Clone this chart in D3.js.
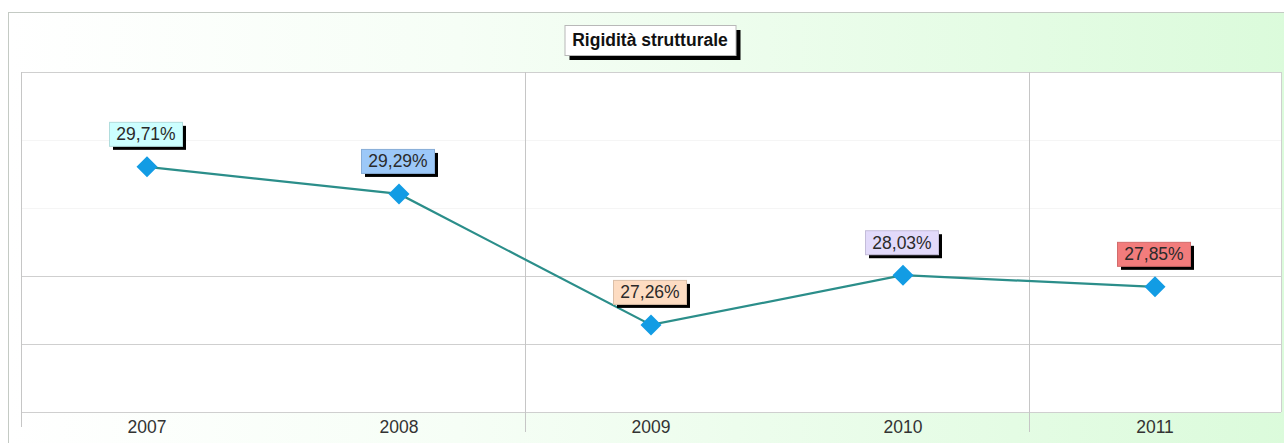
<!DOCTYPE html>
<html>
<head>
<meta charset="utf-8">
<script src="https://cdn.jsdelivr.net/npm/d3@7"></script>
<style>
  html, body { margin: 0; padding: 0; background: #fff; }
  svg { display: block; }
</style>
</head>
<body>
<div id="chart"></div>
<script>
// chart values
const years = ["2007", "2008", "2009", "2010", "2011"];
const values = [29.71, 29.29, 27.26, 28.03, 27.85];
const title = "Rigidità strutturale";

// label box fills, one per year
const labelFills = ["#ccffff", "#9cc8f8", "#fddcc2", "#e2dafa", "#f27c7c"];

const width = 1284, height = 443;
const plot = { left: 21, right: 1281, top: 72, bottom: 412 };
const yMin = 25.91, yMax = 31.18;  // axis range of the original

const itLocale = d3.formatLocale({ decimal: ",", thousands: ".", grouping: [3], currency: ["", "€"] });
const fmt = itLocale.format(".2f");

const svg = d3.select("#chart").append("svg")
  .attr("width", width)
  .attr("height", height);

const defs = svg.append("defs");
const grad = defs.append("linearGradient")
  .attr("id", "bg")
  .attr("x1", "0%").attr("x2", "100%").attr("y1", "0%").attr("y2", "0%");
grad.append("stop").attr("offset", "0%").attr("stop-color", "#ffffff");
grad.append("stop").attr("offset", "35%").attr("stop-color", "#f6fef6");
grad.append("stop").attr("offset", "100%").attr("stop-color", "#dbfbdb");

// outer frame with the green gradient
svg.append("rect")
  .attr("x", 8.5).attr("y", 12.5)
  .attr("width", width).attr("height", height)
  .attr("fill", "url(#bg)")
  .attr("stroke", "#c4cac4");

// plot area
svg.append("rect")
  .attr("x", plot.left).attr("y", plot.top)
  .attr("width", plot.right - plot.left).attr("height", plot.bottom - plot.top)
  .attr("fill", "#ffffff");

const x = d3.scaleBand()
  .domain(years)
  .range([plot.left, plot.right]);

const y = d3.scaleLinear()
  .domain([yMin, yMax])
  .range([plot.bottom, plot.top]);

const gridVals = d3.range(6).map(i => yMin + i * (yMax - yMin) / 5);

// horizontal grid (upper lines are very pale in the original)
svg.append("g").selectAll("line")
  .data(gridVals)
  .join("line")
  .attr("x1", plot.left).attr("x2", plot.right)
  .attr("y1", d => Math.round(y(d)) + 0.5)
  .attr("y2", d => Math.round(y(d)) + 0.5)
  .attr("stroke", (d, i) => (i == 3 || i == 4) ? "#f5f5f5" : "#cfcfcf");

// vertical separators, every second category boundary, running into the label zone
const bounds = [0, 2, 4].map(i => x(years[i]));
svg.append("g").selectAll("line")
  .data(bounds)
  .join("line")
  .attr("x1", d => Math.round(d) + 0.5).attr("x2", d => Math.round(d) + 0.5)
  .attr("y1", plot.top)
  .attr("y2", (d, i) => i == 0 ? 427 : 432)
  .attr("stroke", "#c6c6c6");

// right border
svg.append("line")
  .attr("x1", plot.right + 0.5).attr("x2", plot.right + 0.5)
  .attr("y1", plot.top).attr("y2", plot.bottom)
  .attr("stroke", "#cfcfcf");

// category labels
svg.append("g").selectAll("text")
  .data(years)
  .join("text")
  .attr("x", d => x(d) + x.bandwidth() / 2)
  .attr("y", 433)
  .attr("text-anchor", "middle")
  .attr("font-family", "Liberation Sans, Arial, sans-serif")
  .attr("font-size", 17.5)
  .attr("fill", "#333")
  .text(d => d);

// the line
const pts = years.map((yr, i) => ({ year: yr, value: values[i], fill: labelFills[i] }));
const cx = d => x(d.year) + x.bandwidth() / 2;

svg.append("path")
  .datum(pts)
  .attr("fill", "none")
  .attr("stroke", "#2b8e8a")
  .attr("stroke-width", 2.2)
  .attr("d", d3.line().x(cx).y(d => y(d.value)));

// diamonds
svg.append("g").selectAll("path")
  .data(pts)
  .join("path")
  .attr("transform", d => `translate(${cx(d)},${y(d.value)})`)
  .attr("d", "M0,-10.5L10.5,0L0,10.5L-10.5,0Z")
  .attr("fill", "#129ce4");

// value labels with drop shadow
const bw = 73, bh = 24;
const lab = svg.append("g").selectAll("g")
  .data(pts)
  .join("g")
  .attr("transform", d => `translate(${cx(d) - 38},${y(d.value) - 21 - bh})`);

lab.append("rect")
  .attr("x", 4).attr("y", 4)
  .attr("width", bw).attr("height", bh)
  .attr("fill", "#000");

lab.append("rect")
  .attr("x", 0.5).attr("y", 0.5)
  .attr("width", bw).attr("height", bh)
  .attr("fill", d => d.fill)
  .attr("stroke", d => d3.color(d.fill).darker(0.4));

lab.append("text")
  .attr("x", bw / 2 + 0.5)
  .attr("y", bh / 2 + 6.5)
  .attr("text-anchor", "middle")
  .attr("font-family", "Liberation Sans, Arial, sans-serif")
  .attr("font-size", 17.5)
  .attr("fill", "#2a2a2a")
  .text(d => fmt(d.value) + "%");

// title box
const tw = 171, th = 30, tcx = 650;
const tg = svg.append("g").attr("transform", `translate(${tcx - tw / 2},25)`);
tg.append("rect").attr("x", 5).attr("y", 5).attr("width", tw).attr("height", th).attr("fill", "#000");
tg.append("rect").attr("x", 0.5).attr("y", 0.5).attr("width", tw).attr("height", th)
  .attr("fill", "#fff").attr("stroke", "#b8b8b8");
tg.append("text")
  .attr("x", tw / 2).attr("y", th / 2 + 6)
  .attr("text-anchor", "middle")
  .attr("font-family", "Liberation Sans, Arial, sans-serif")
  .attr("font-weight", "bold")
  .attr("font-size", 17.5)
  .attr("fill", "#111")
  .text(title);
</script>
</body>
</html>
